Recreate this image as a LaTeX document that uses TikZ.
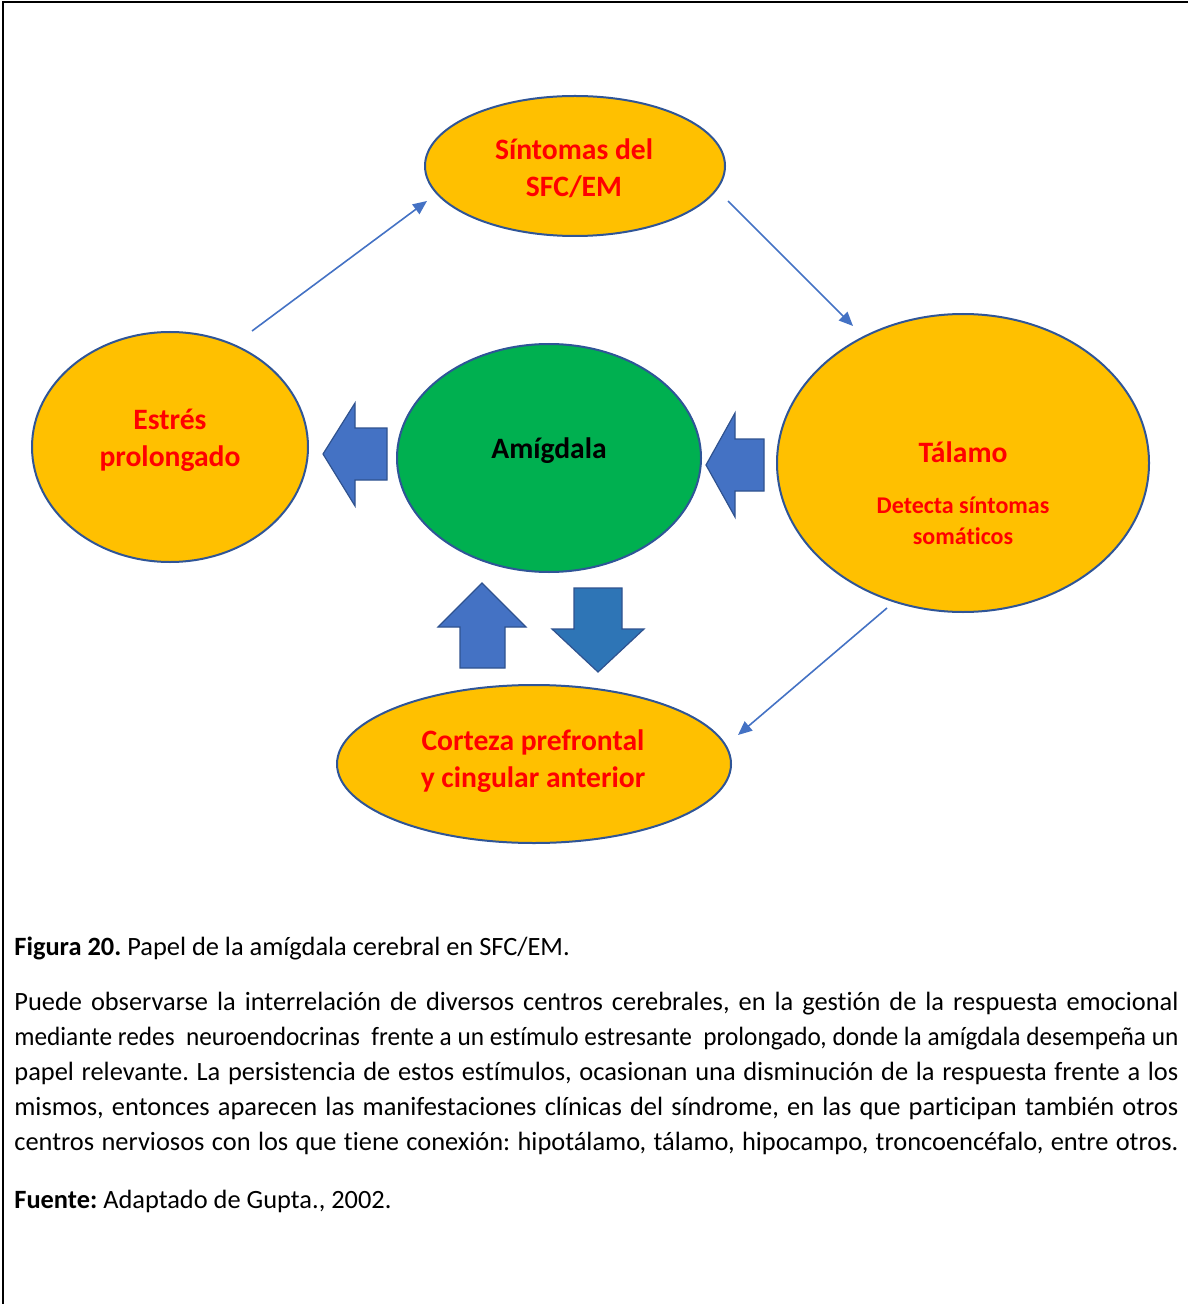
\documentclass[tikz,border=0pt]{standalone}
\usepackage{fontspec}
\usepackage{graphicx}
\setmainfont[Ligatures=NoCommon]{Carlito}
\usetikzlibrary{shapes.geometric,arrows.meta}
\definecolor{orng}{HTML}{FFC000}
\definecolor{grn}{HTML}{00B050}
\definecolor{edgeblue}{HTML}{2F5597}
\definecolor{arrblue}{HTML}{4472C4}
\definecolor{arrblue2}{HTML}{2E75B6}
\definecolor{arredge}{HTML}{2F528F}
\definecolor{lblred}{HTML}{FF0000}
\frenchspacing
\begin{document}
\begin{tikzpicture}[x=0.5pt,y=-0.5pt,
  oval/.style={ellipse,draw=edgeblue,line width=1pt,inner sep=0pt},
  biglbl/.style={font=\fontsize{14.8}{18.5}\selectfont\bfseries,text=lblred,align=center,inner sep=0pt},
  smalllbl/.style={font=\fontsize{12}{15.5}\selectfont\bfseries,text=lblred,align=center,inner sep=0pt},
  thin/.style={draw=arrblue,line width=0.8pt,-{Triangle[length=7pt,width=6pt]}},
  blockarr/.style={fill=arrblue,draw=arredge,line width=0.6pt,line join=miter},
  bodytext/.style={font=\fontsize{13.2}{15}\selectfont,inner sep=0pt,anchor=base west}]
\useasboundingbox (0,0) rectangle (1188,1304);
% frame
\draw[line width=1pt] (3,1304) -- (3,2) -- (1188,2);
% ellipses
\node[oval,fill=orng,minimum width=150pt,minimum height=70pt] (sint) at (575,166) {};
\node[oval,fill=orng,minimum width=138pt,minimum height=115pt] (estres) at (170,447) {};
\node[oval,fill=grn,minimum width=152pt,minimum height=114pt] (amig) at (549,458) {};
\node[oval,fill=orng,minimum width=186pt,minimum height=149pt] (tal) at (963,463) {};
\node[oval,fill=orng,minimum width=197pt,minimum height=79pt] (cort) at (534,764) {};
% labels
\node[biglbl] (sintlbl) at (574,168) {Síntomas del\\SFC/EM};
\node[biglbl] (estreslbl) at (170,440) {Estrés\\prolongado};
\node[biglbl,text=black] (amiglbl) at (549,451) {Amígdala};
\node[biglbl] (tallbl) at (963,452) {Tálamo};
\node[smalllbl] (detlbl) at (963,521) {Detecta síntomas\\somáticos};
\node[biglbl] (cortlbl) at (533,761) {Corteza prefrontal\\y cingular anterior};
% thin connectors
\coordinate (a1) at (252,331); \coordinate (b1) at (427,201);
\coordinate (a2) at (728,201); \coordinate (b2) at (853,326);
\coordinate (a3) at (887,608); \coordinate (b3) at (738,735);
\draw[thin] (a1) -- (b1);
\draw[thin] (a2) -- (b2);
\draw[thin] (a3) -- (b3);
% block arrows
\draw[blockarr] (323,454) -- (355,403) -- (355,428) -- (387,428) -- (387,480) -- (355,480) -- (355,506) -- cycle;
\draw[blockarr] (706,465) -- (735,413) -- (735,439) -- (764,439) -- (764,491) -- (735,491) -- (735,517) -- cycle;
\draw[blockarr] (482,583) -- (526,627) -- (505,627) -- (505,668) -- (460,668) -- (460,627) -- (438,627) -- cycle;
\draw[blockarr,fill=arrblue2] (574,588) -- (622,588) -- (622,629) -- (644,629) -- (598,672) -- (552,629) -- (574,629) -- cycle;
% caption text
\node[bodytext] (cap) at (14,955) {\textbf{Figura 20.} Papel de la amígdala cerebral en SFC/EM.};
\node[bodytext] (p1) at (14,1010) {\hbox to 582pt{Puede observarse la interrelación de diversos centros cerebrales, en la gestión de la respuesta emocional}};
\node[bodytext] (p2) at (14,1045) {\resizebox{582pt}{\height}{mediante redes\ \ neuroendocrinas\ \ frente a un estímulo estresante\ \ prolongado, donde la amígdala desempeña un}};
\node[bodytext] (p3) at (14,1080) {\hbox to 582pt{papel relevante. La persistencia de estos estímulos, ocasionan una disminución de la respuesta frente a los}};
\node[bodytext] (p4) at (14,1115) {\hbox to 582pt{mismos, entonces aparecen las manifestaciones clínicas del síndrome, en las que participan también otros}};
\node[bodytext] (p5) at (14,1150) {\hbox to 582pt{centros nerviosos con los que tiene conexión: hipotálamo, tálamo, hipocampo, troncoencéfalo, entre otros.}};
\node[bodytext] (fuente) at (14,1208) {\textbf{Fuente:} Adaptado de Gupta., 2002.};
\end{tikzpicture}
\end{document}
